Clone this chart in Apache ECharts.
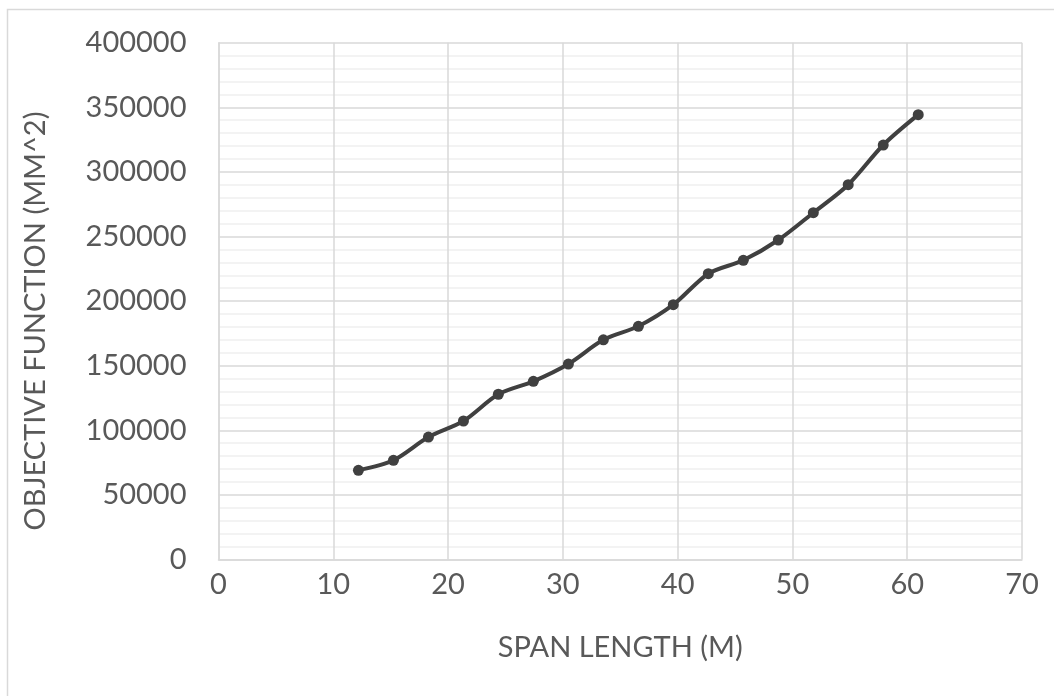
<!DOCTYPE html>
<html>
<head>
<meta charset="utf-8">
<script src="https://cdn.jsdelivr.net/npm/echarts@6/dist/echarts.min.js"></script>
<style>
  html, body { margin: 0; padding: 0; background: #fff; }
  #chart { width: 1054px; height: 696px; }
</style>
</head>
<body>
<div id="chart"></div>
<script>
// Span length (m) and objective function (mm^2)
const spanLength = [12.19, 15.24, 18.29, 21.34, 24.38, 27.43, 30.48, 33.53, 36.58,
  39.62, 42.67, 45.72, 48.77, 51.82, 54.86, 57.91, 60.96];
const objective = [69000, 76800, 94800, 107200, 127900, 137900, 151300, 170000, 180500,
  197200, 221200, 231600, 247300, 268400, 290100, 320800, 344300];

const xTitle = 'SPAN LENGTH (M)';
const yTitle = 'OBJECTIVE FUNCTION (MM^2)';

const textColor = '#595959';
const fontFamily = 'Lato, "Open Sans", sans-serif';

const chart = echarts.init(document.getElementById('chart'), null, { renderer: 'canvas' });

chart.setOption({
  animation: false,
  backgroundColor: '#fff',
  graphic: [{
    type: 'rect',
    shape: { x: 7.5, y: 9.5, width: 1100, height: 760 },
    style: { fill: 'none', stroke: '#d9d9d9', lineWidth: 1.5 },
    silent: true,
    z: -10
  }],
  grid: { left: 218.5, right: 32, top: 42.7, bottom: 136.5 },
  xAxis: {
    type: 'value',
    min: 0, max: 70, interval: 10,
    name: xTitle,
    nameLocation: 'middle',
    nameGap: 74,
    nameTextStyle: { color: textColor, fontSize: 29, fontFamily: fontFamily },
    axisLine: { show: true, lineStyle: { color: '#d9d9d9', width: 1.5 } },
    axisTick: { show: false },
    axisLabel: { color: textColor, fontSize: 29, fontFamily: fontFamily, margin: 11 },
    splitLine: { show: true, lineStyle: { color: '#d9d9d9', width: 1.5 } }
  },
  yAxis: {
    type: 'value',
    min: 0, max: 400000, interval: 50000,
    name: yTitle,
    nameLocation: 'middle',
    nameGap: 168,
    nameTextStyle: {
      color: textColor, fontSize: 29, fontFamily: fontFamily,
      padding: [0, 40, 0, 0]
    },
    axisLine: { show: true, lineStyle: { color: '#d9d9d9', width: 1.5 } },
    axisTick: { show: false },
    axisLabel: {
      color: textColor, fontSize: 29, fontFamily: fontFamily, margin: 32,
      formatter: v => String(v)
    },
    splitLine: { show: true, lineStyle: { color: '#d9d9d9', width: 1.5 } },
    minorTick: { show: false, splitNumber: 5 },
    minorSplitLine: { show: true, lineStyle: { color: '#f0f0f0', width: 1.5 } }
  },
  series: [{
    type: 'line',
    data: spanLength.map((x, i) => [x, objective[i]]),
    smooth: 0.3,
    symbol: 'circle',
    symbolSize: 11,
    lineStyle: { color: '#404040', width: 4 },
    itemStyle: { color: '#404040' }
  }]
});
</script>
</body>
</html>
